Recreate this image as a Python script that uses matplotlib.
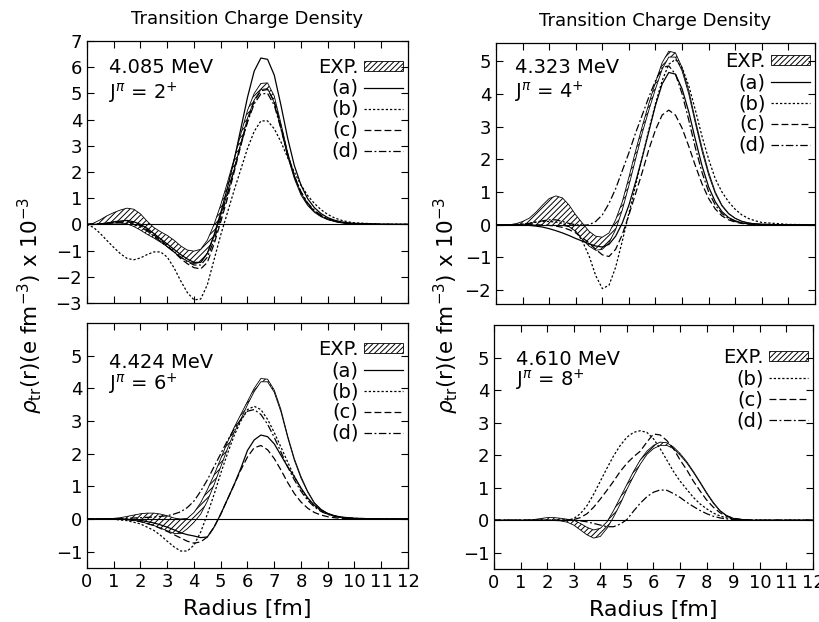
import numpy as np
import matplotlib
matplotlib.use("Agg")
import matplotlib.pyplot as plt
from matplotlib.patches import Patch
from matplotlib.lines import Line2D

plt.rcParams['font.family'] = ['DejaVu Sans']
plt.rcParams['hatch.linewidth'] = 0.7

# radius grid (fm)
radius = [0.0, 0.25, 0.5, 0.75, 1.0, 1.25, 1.5, 1.75, 2.0, 2.25, 2.5, 2.75, 3.0, 3.25, 3.5, 3.75,
          4.0, 4.25, 4.5, 4.75, 5.0, 5.25, 5.5, 5.75, 6.0, 6.25, 6.5, 6.75, 7.0, 7.25, 7.5, 7.75,
          8.0, 8.25, 8.5, 8.75, 9.0, 9.25, 9.5, 9.75, 10.0, 11.0, 12.0]

# ---- 4.085 MeV, 2+ ----
p1_exp_hi = [0, 0.05, 0.18, 0.33, 0.45, 0.55, 0.62, 0.58, 0.4, 0.12, -0.12, -0.28, -0.42, -0.6, -0.82, -0.98,
             -1.02, -0.95, -0.6, 0.0, 0.75, 1.6, 2.5, 3.45, 4.35, 5.0, 5.38, 5.4, 4.9, 3.85, 2.75, 1.85,
             1.2, 0.78, 0.5, 0.32, 0.2, 0.12, 0.07, 0.04, 0.02, 0, 0]
p1_exp_lo = [0, 0, 0, 0.02, 0.05, 0.06, 0.02, -0.08, -0.22, -0.38, -0.52, -0.68, -0.85, -1.05, -1.25, -1.4,
             -1.5, -1.45, -1.1, -0.45, 0.35, 1.2, 2.1, 3.1, 4.05, 4.75, 5.15, 5.18, 4.65, 3.65, 2.6, 1.75,
             1.12, 0.72, 0.46, 0.29, 0.18, 0.11, 0.06, 0.03, 0.02, 0, 0]
p1_a = [0, 0, 0.02, 0.05, 0.1, 0.13, 0.15, 0.1, 0.0, -0.15, -0.35, -0.55, -0.75, -0.95, -1.15, -1.32,
        -1.45, -1.45, -1.1, -0.4, 0.45, 1.4, 2.45, 3.65, 4.85, 5.85, 6.35, 6.3, 5.7, 4.55, 3.3, 2.25,
        1.5, 0.98, 0.64, 0.41, 0.26, 0.16, 0.1, 0.06, 0.04, 0.01, 0]
p1_b = [0, -0.12, -0.35, -0.62, -0.88, -1.12, -1.3, -1.35, -1.28, -1.15, -1.05, -1.05, -1.25, -1.65, -2.15, -2.6,
        -2.88, -2.85, -2.3, -1.35, -0.4, 0.45, 1.3, 2.1, 2.9, 3.55, 3.95, 3.95, 3.65, 3.15, 2.55, 2.0,
        1.5, 1.1, 0.8, 0.56, 0.38, 0.25, 0.16, 0.1, 0.06, 0.01, 0]
p1_c = [0, 0, 0.02, 0.05, 0.08, 0.1, 0.1, 0.05, -0.05, -0.2, -0.4, -0.6, -0.82, -1.05, -1.3, -1.5,
        -1.65, -1.7, -1.45, -0.75, 0.1, 1.0, 2.0, 3.0, 3.95, 4.7, 5.1, 5.15, 4.7, 3.75, 2.7, 1.85,
        1.2, 0.78, 0.5, 0.32, 0.2, 0.12, 0.07, 0.04, 0.02, 0, 0]
p1_d = [0, 0, 0.02, 0.04, 0.06, 0.06, 0.05, 0.0, -0.1, -0.25, -0.45, -0.65, -0.85, -1.05, -1.25, -1.42,
        -1.55, -1.55, -1.25, -0.6, 0.25, 1.15, 2.1, 3.05, 3.9, 4.6, 4.98, 5.0, 4.55, 3.65, 2.65, 1.85,
        1.25, 0.82, 0.54, 0.35, 0.22, 0.14, 0.08, 0.05, 0.03, 0, 0]

# ---- 4.323 MeV, 4+ ----
p2_exp_hi = [0, 0, 0, 0.03, 0.1, 0.2, 0.38, 0.6, 0.8, 0.88, 0.82, 0.6, 0.3, 0.05, -0.2, -0.35,
             -0.38, -0.25, 0.15, 0.7, 1.45, 2.25, 3.0, 3.7, 4.35, 4.95, 5.3, 5.25, 4.8, 4.1, 3.2, 2.35,
             1.6, 1.0, 0.6, 0.35, 0.2, 0.11, 0.06, 0.03, 0.02, 0, 0]
p2_exp_lo = [0, 0, 0, 0, 0, 0, -0.01, -0.02, -0.02, -0.02, -0.02, -0.06, -0.2, -0.45, -0.65, -0.78,
             -0.75, -0.55, -0.15, 0.45, 1.2, 2.0, 2.8, 3.5, 4.15, 4.75, 5.12, 5.12, 4.7, 4.0, 3.1, 2.25,
             1.52, 0.95, 0.57, 0.33, 0.19, 0.1, 0.05, 0.03, 0.01, 0, 0]
p2_a = [0, 0, 0, 0, -0.01, -0.02, -0.04, -0.07, -0.12, -0.18, -0.25, -0.33, -0.42, -0.5, -0.58, -0.65,
        -0.68, -0.6, -0.35, 0.05, 0.6, 1.3, 2.05, 2.85, 3.65, 4.3, 4.65, 4.6, 4.15, 3.45, 2.6, 1.8,
        1.15, 0.7, 0.4, 0.22, 0.12, 0.06, 0.03, 0.02, 0.01, 0, 0]
p2_b = [0, 0, 0, 0.01, 0.02, 0.05, 0.08, 0.1, 0.1, 0.08, 0.04, -0.05, -0.2, -0.5, -0.95, -1.55,
        -1.95, -1.85, -1.3, -0.5, 0.35, 1.2, 2.05, 2.9, 3.7, 4.4, 4.9, 5.05, 4.8, 4.25, 3.5, 2.7,
        2.0, 1.4, 1.0, 0.7, 0.47, 0.3, 0.19, 0.12, 0.07, 0.01, 0]
p2_c = [0, 0, 0, 0, 0, 0, 0, -0.01, -0.02, -0.04, -0.08, -0.15, -0.25, -0.4, -0.55, -0.75,
        -0.92, -0.97, -0.75, -0.3, 0.3, 0.95, 1.6, 2.3, 2.9, 3.35, 3.5, 3.35, 2.95, 2.4, 1.8, 1.25,
        0.8, 0.48, 0.27, 0.15, 0.08, 0.04, 0.02, 0.01, 0, 0, 0]
p2_d = [0, 0, 0, 0.01, 0.02, 0.04, 0.08, 0.12, 0.15, 0.15, 0.1, 0.04, 0.0, -0.02, 0.0, 0.1,
        0.3, 0.65, 1.1, 1.65, 2.2, 2.8, 3.35, 3.9, 4.4, 4.8, 4.85, 4.6, 4.0, 3.2, 2.35, 1.6,
        1.0, 0.6, 0.34, 0.19, 0.1, 0.05, 0.03, 0.01, 0, 0, 0]

# ---- 4.424 MeV, 6+ ----
p3_exp_hi = [0, 0, 0, 0, 0.02, 0.04, 0.08, 0.12, 0.16, 0.18, 0.18, 0.15, 0.1, 0.03, 0.0, 0.02,
             0.2, 0.5, 0.9, 1.35, 1.85, 2.35, 2.8, 3.2, 3.6, 4.0, 4.3, 4.28, 3.95, 3.35, 2.55, 1.85,
             1.3, 0.85, 0.5, 0.3, 0.17, 0.1, 0.06, 0.03, 0.02, 0, 0]
p3_exp_lo = [0, 0, 0, 0, 0, 0, -0.01, -0.04, -0.08, -0.14, -0.2, -0.28, -0.36, -0.44, -0.45, -0.3,
             -0.1, 0.15, 0.55, 1.05, 1.6, 2.15, 2.65, 3.05, 3.5, 3.9, 4.2, 4.2, 3.88, 3.28, 2.5, 1.8,
             1.25, 0.82, 0.48, 0.28, 0.16, 0.09, 0.05, 0.03, 0.01, 0, 0]
p3_a = [0, 0, 0, 0, 0, 0, -0.01, -0.02, -0.04, -0.08, -0.12, -0.18, -0.25, -0.33, -0.42, -0.48,
        -0.52, -0.57, -0.55, -0.25, 0.15, 0.6, 1.05, 1.55, 2.1, 2.42, 2.57, 2.52, 2.3, 1.95, 1.6, 1.3,
        0.95, 0.65, 0.42, 0.27, 0.17, 0.1, 0.06, 0.04, 0.02, 0, 0]
p3_b = [0, 0, 0, 0, -0.01, -0.03, -0.05, -0.1, -0.15, -0.25, -0.35, -0.5, -0.68, -0.85, -0.98, -0.98,
        -0.8, -0.4, 0.15, 0.75, 1.4, 2.0, 2.55, 3.0, 3.35, 3.45, 3.35, 3.05, 2.65, 2.2, 1.75, 1.3,
        0.92, 0.62, 0.4, 0.25, 0.15, 0.09, 0.05, 0.03, 0.02, 0, 0]
p3_c = [0, 0, 0, 0, 0, -0.01, -0.02, -0.05, -0.08, -0.14, -0.2, -0.29, -0.38, -0.48, -0.58, -0.68,
        -0.74, -0.7, -0.55, -0.25, 0.15, 0.6, 1.05, 1.5, 1.9, 2.18, 2.25, 2.12, 1.85, 1.5, 1.12, 0.78,
        0.52, 0.33, 0.2, 0.12, 0.07, 0.04, 0.02, 0.01, 0, 0, 0]
p3_d = [0, 0, 0, 0, 0, 0.01, 0.02, 0.03, 0.04, 0.05, 0.06, 0.08, 0.1, 0.15, 0.22, 0.35,
        0.55, 0.85, 1.2, 1.6, 2.0, 2.4, 2.75, 3.05, 3.3, 3.35, 3.2, 2.9, 2.5, 2.05, 1.6, 1.2,
        0.85, 0.57, 0.37, 0.23, 0.14, 0.08, 0.05, 0.03, 0.02, 0, 0]

# ---- 4.610 MeV, 8+ ----
p4_exp_hi = [0, 0, 0, 0, 0, 0, 0.02, 0.05, 0.08, 0.08, 0.06, 0.03, 0.0, -0.1, -0.22, -0.3,
             -0.25, -0.05, 0.3, 0.7, 1.1, 1.5, 1.85, 2.12, 2.3, 2.4, 2.38, 2.25, 2.05, 1.8, 1.5, 1.18,
             0.85, 0.55, 0.3, 0.15, 0.06, 0.03, 0.01, 0, 0, 0, 0]
p4_exp_lo = [0, 0, 0, 0, 0, 0, 0, 0, 0, -0.01, -0.02, -0.06, -0.15, -0.3, -0.45, -0.55,
             -0.5, -0.25, 0.1, 0.5, 0.95, 1.35, 1.72, 2.02, 2.2, 2.3, 2.3, 2.2, 2.0, 1.76, 1.47, 1.15,
             0.82, 0.52, 0.28, 0.13, 0.05, 0.02, 0.01, 0, 0, 0, 0]
p4_b = [0, 0, 0, 0, 0, 0, 0, 0, 0, 0, 0, 0, 0.05, 0.2, 0.45, 0.8,
        1.2, 1.6, 1.98, 2.3, 2.55, 2.7, 2.75, 2.7, 2.5, 2.2, 1.85, 1.5, 1.2, 0.95, 0.7, 0.5,
        0.35, 0.22, 0.13, 0.07, 0.04, 0.02, 0.01, 0, 0, 0, 0]
p4_c = [0, 0, 0, 0, 0, 0, 0, 0, 0, 0, 0, 0, 0.02, 0.08, 0.2, 0.4,
        0.65, 0.92, 1.2, 1.5, 1.75, 1.95, 2.12, 2.4, 2.65, 2.62, 2.45, 2.2, 1.85, 1.55, 1.2, 0.9,
        0.62, 0.4, 0.23, 0.12, 0.06, 0.03, 0.01, 0, 0, 0, 0]
p4_d = [0, 0, 0, 0, 0, 0, 0, 0, 0, 0, 0, 0, 0, -0.02, -0.05, -0.1,
        -0.15, -0.2, -0.2, -0.12, 0.02, 0.28, 0.52, 0.72, 0.86, 0.93, 0.92, 0.82, 0.7, 0.55, 0.42, 0.3,
        0.2, 0.12, 0.07, 0.04, 0.02, 0.01, 0, 0, 0, 0, 0]

panels = [
    dict(title="Transition Charge Density", energy="4.085 MeV", jpi=r"J$^{\pi}$ = 2$^{+}$",
         exp=(p1_exp_lo, p1_exp_hi), models={"a": p1_a, "b": p1_b, "c": p1_c, "d": p1_d},
         ylim=(-3, 7), yticks=[-3, -2, -1, 0, 1, 2, 3, 4, 5, 6, 7],
         rect=(87, 41, 408, 303), txt=(0.07, 0.90, 0.80), leg_y=0.935),
    dict(title="Transition Charge Density", energy="4.323 MeV", jpi=r"J$^{\pi}$ = 4$^{+}$",
         exp=(p2_exp_lo, p2_exp_hi), models={"a": p2_a, "b": p2_b, "c": p2_c, "d": p2_d},
         ylim=(-2.42, 5.55), yticks=[-2, -1, 0, 1, 2, 3, 4, 5],
         rect=(496, 43, 815, 304), txt=(0.06, 0.905, 0.81), leg_y=0.965),
    dict(title=None, energy="4.424 MeV", jpi=r"J$^{\pi}$ = 6$^{+}$",
         exp=(p3_exp_lo, p3_exp_hi), models={"a": p3_a, "b": p3_b, "c": p3_c, "d": p3_d},
         ylim=(-1.5, 6), yticks=[-1, 0, 1, 2, 3, 4, 5],
         rect=(87, 323, 408, 568), txt=(0.07, 0.84, 0.75), leg_y=0.93),
    dict(title=None, energy="4.610 MeV", jpi=r"J$^{\pi}$ = 8$^{+}$",
         exp=(p4_exp_lo, p4_exp_hi), models={"b": p4_b, "c": p4_c, "d": p4_d},
         ylim=(-1.5, 6), yticks=[-1, 0, 1, 2, 3, 4, 5],
         rect=(494, 325, 813, 569), txt=(0.07, 0.857, 0.775), leg_y=0.905),
]

styles = {"a": "-", "b": (0, (1.8, 1.6)), "c": (0, (5.5, 2.5)), "d": (0, (6, 2, 1.5, 2))}
xticks = list(range(0, 13))
xticklabels = [str(v) for v in xticks]

W, H = 820, 622
fig = plt.figure(figsize=(W / 100, H / 100), dpi=100)

for i, p in enumerate(panels):
    l, t, r_, b = p["rect"]
    ax = fig.add_axes([l / W, (H - b) / H, (r_ - l) / W, (b - t) / H])
    lo, hi = p["exp"]
    ax.fill_between(radius, lo, hi, facecolor="none", edgecolor="black", hatch="//////", linewidth=0.0)
    ax.plot(radius, lo, color="black", lw=0.6)
    ax.plot(radius, hi, color="black", lw=0.6)
    for key, vals in p["models"].items():
        ax.plot(radius, vals, color="black", lw=0.9, linestyle=styles[key])
    ax.axhline(0, color="black", lw=0.8)
    ax.set_xlim(0, 12)
    ax.set_ylim(*p["ylim"])
    ax.set_xticks(xticks)
    ax.set_yticks(p["yticks"])
    ax.tick_params(direction="in", top=True, right=True, length=5, width=0.8, labelsize=13)
    if i < 2:
        ax.set_xticklabels([])
    else:
        ax.set_xticklabels(xticklabels)
        ax.set_xlabel("Radius [fm]", fontsize=16, labelpad=6)
    for s in ax.spines.values():
        s.set_linewidth(0.9)
    if p["title"]:
        ax.set_title(p["title"], fontsize=13, pad=12)
    tx, ty1, ty2 = p["txt"]
    ax.text(tx, ty1, p["energy"], transform=ax.transAxes, fontsize=14, va="center")
    ax.text(tx, ty2, p["jpi"], transform=ax.transAxes, fontsize=14, va="center")

    handles = [Patch(facecolor="none", edgecolor="black", hatch="//////", linewidth=0.6)]
    labels = ["EXP."]
    for key in p["models"]:
        handles.append(Line2D([], [], color="black", lw=0.9, linestyle=styles[key]))
        labels.append("(%s)" % key)
    ax.legend(handles, labels, loc="upper right", bbox_to_anchor=(0.985, p["leg_y"]),
              markerfirst=False, frameon=False, fontsize=14, handlelength=2.0,
              handleheight=0.45, handletextpad=0.3, labelspacing=0.1, borderaxespad=0.0,
              borderpad=0.0)

ylab = r"$\rho_{\rm tr}$(r)(e fm$^{-3}$) x 10$^{-3}$"
fig.text(30 / W, 1 - 305 / H, ylab, rotation=90, fontsize=15.5, ha="center", va="center")
fig.text(446 / W, 1 - 305 / H, ylab, rotation=90, fontsize=15.5, ha="center", va="center")

fig.savefig("out.png", dpi=100)
